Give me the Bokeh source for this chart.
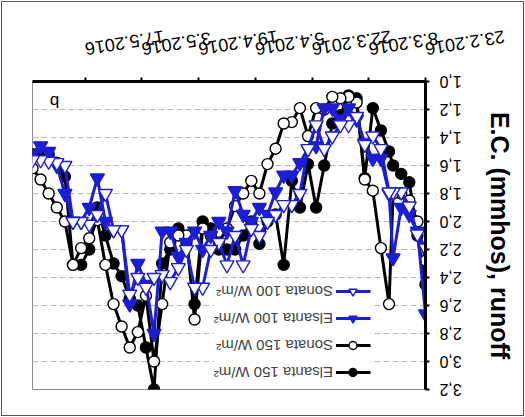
from bokeh.plotting import figure
from bokeh.models import (FixedTicker, Range1d, Legend, LegendItem, Label,
                          InlineStyleSheet)
from bokeh.embed import file_html
from bokeh.resources import INLINE

# sampling days, counted from 23.2.2016
days = [0, 2, 4, 6, 8, 9, 11, 13, 15, 17, 19, 21, 23, 25, 27, 29, 31, 33, 35, 37,
        39, 41, 43, 45, 47, 49, 51, 53, 55, 57, 59, 61, 63, 65, 67, 69, 71, 73, 75, 77,
        79, 81, 83, 85, 87, 89, 91, 93, 95, 97]

elsanta_150 = [2.45, 2.10, 1.72, 1.66, 1.60, 1.50, 1.35, 1.19, 1.69, 1.12,
               1.10, 1.24, 1.30, 1.60, 1.90, 1.59, 1.90, 1.71, 2.31, 1.95,
               2.00, 2.16, 2.00, 2.10, 2.20, 2.20, 2.20, 2.05, 2.00, 2.59,
               2.15, 2.05, 2.20, 2.30, 3.20, 2.90, 2.60, 2.55, 2.39, 2.30,
               2.10, 1.90, 2.20, 2.31, 2.31, 1.68, 1.58, 1.52, 1.50, 1.52]
sonata_150 = [2.28, 2.00, 1.85, 1.80, 1.80, 2.59, 2.19, 1.78, 1.70, 1.15,
              1.11, 1.12, 1.11, 1.20, 1.19, 1.39, 1.19, 1.29, 1.30, 1.48,
              1.59, 1.80, 1.71, 1.80, 1.89, 2.05, 2.15, 2.10, 2.05, 2.70,
              2.10, 2.10, 2.15, 2.59, 3.00, 2.53, 2.79, 2.90, 2.75, 2.59,
              2.31, 1.99, 2.12, 2.19, 2.31, 2.00, 1.90, 1.80, 1.70, 1.62]
elsanta_100 = [2.66, 2.07, 1.95, 1.90, 2.26, 1.80, 1.55, 1.55, 1.44, 1.27,
               1.19, 1.27, 1.19, 1.19, 1.46, 1.48, 1.58, 1.67, 1.67, 1.79,
               1.95, 1.90, 2.00, 1.95, 1.78, 2.07, 2.00, 2.10, 2.20, 2.07,
               2.15, 2.25, 2.07, 2.07, 2.80, 2.45, 2.30, 2.59, 2.06, 2.06,
               2.00, 1.69, 1.90, 2.00, 2.00, 1.80, 1.60, 1.50, 1.46, 1.52]
sonata_100 = [2.19, 2.09, 1.89, 1.79, 1.79, 1.79, 1.48, 1.39, 1.45, 1.25,
              1.31, 1.31, 1.39, 1.48, 1.31, 1.48, 1.80, 1.88, 1.88, 1.95,
              2.00, 2.10, 2.05, 2.31, 2.10, 2.31, 2.15, 2.20, 2.47, 2.47,
              2.20, 2.33, 2.43, 2.38, 2.40, 2.47, 2.40, 2.52, 2.06, 2.06,
              1.80, 1.95, 2.02, 2.00, 2.00, 1.60, 1.58, 1.57, 1.56, 1.56]

series_labels = ["Elsanta 150 W/m\u00b2", "Sonata 150 W/m\u00b2",
                 "Elsanta 100 W/m\u00b2", "Sonata 100 W/m\u00b2"]

x_tick_days = [0, 14, 28, 42, 56, 70, 84]
x_tick_labels = ["23.2.2016", "8.3.2016", "22.3.2016", "5.4.2016",
                 "19.4.2016", "3.5.2016", "17.5.2016"]
y_ticks = [1.0, 1.2, 1.4, 1.6, 1.8, 2.0, 2.2, 2.4, 2.6, 2.8, 3.0, 3.2]
y_tick_labels = ["1,0", "1,2", "1,4", "1,6", "1,8", "2,0", "2,2", "2,4",
                 "2,6", "2,8", "3,0", "3,2"]

FONT = "Liberation Sans"
BLUE = "#1d1dd4"

p = figure(width=509, height=401, output_backend="svg", toolbar_location=None,
           x_range=Range1d(0, 97), y_range=Range1d(1.0, 3.2),
           min_border_left=87, min_border_right=25, min_border_top=19,
           min_border_bottom=74)

# The reference picture is shown turned by 180 degrees
p.stylesheets = [InlineStyleSheet(css=":host { margin: 8px; transform: rotate(180deg); "
                                      "outline: 1px solid #555555; outline-offset: 6px; }")]

p.background_fill_color = "white"
p.border_fill_color = "white"
p.outline_line_color = "#8c8c8c"
p.outline_line_width = 1

p.xgrid.visible = False
p.ygrid.ticker = FixedTicker(ticks=y_ticks)
p.ygrid.grid_line_color = "#b8b8b8"
p.ygrid.grid_line_dash = "6 3"
p.ygrid.grid_line_width = 1

for ax in (p.xaxis[0], p.yaxis[0]):
    ax.axis_line_color = "black"
    ax.axis_line_width = 3
    ax.major_tick_line_color = "black"
    ax.major_tick_line_width = 2
    ax.major_tick_out = 4
    ax.major_tick_in = 0
    ax.minor_tick_line_color = None
    ax.major_label_text_font = FONT
    ax.major_label_text_color = "black"

p.xaxis.ticker = FixedTicker(ticks=x_tick_days)
p.xaxis.major_label_overrides = dict(zip(x_tick_days, x_tick_labels))
p.xaxis.major_label_orientation = 0.16
p.xaxis.major_label_text_font_size = "18px"
p.xaxis.major_label_standoff = 28

p.yaxis.ticker = FixedTicker(ticks=y_ticks)
p.yaxis.major_label_overrides = dict(zip(y_ticks, y_tick_labels))
p.yaxis.major_label_text_font_size = "16px"
p.yaxis.major_label_standoff = 10
p.yaxis.axis_label = "E.C. (mmhos), runoff"
p.yaxis.axis_label_text_font = FONT
p.yaxis.axis_label_text_font_style = "bold"
p.yaxis.axis_label_text_font_size = "25px"
p.yaxis.axis_label_text_color = "black"
p.yaxis.axis_label_standoff = 21

items = []
specs = [
    (elsanta_150, "black", "circle", "black", "black", 11),
    (sonata_150, "black", "circle", "white", "black", 11),
    (elsanta_100, BLUE, "triangle", BLUE, BLUE, 14),
    (sonata_100, BLUE, "triangle", "white", BLUE, 14),
]
for vals, lc, marker, fc, mc, size in specs:
    lr = p.line(days, vals, line_color=lc, line_width=3)
    sr = p.scatter(days, vals, marker=marker, size=size, fill_color=fc,
                   line_color=mc, line_width=1.4)
    items.append((lr, sr))

legend = Legend(items=[LegendItem(label=lab, renderers=[lr, sr])
                       for lab, (lr, sr) in zip(series_labels, items)],
                location=(55, 200), padding=0, margin=0, spacing=7,
                glyph_width=35, glyph_height=20, label_height=20,
                label_standoff=3, label_text_font=FONT,
                label_text_font_size="15px", background_fill_color="white",
                background_fill_alpha=1.0, border_line_color=None)
p.add_layout(legend)

p.add_layout(Label(x=90.4, y=1.14, text="b", text_font=FONT,
                   text_font_size="17px", text_baseline="alphabetic",
                   text_color="black"))

open("out.html", "w").write(file_html(p, INLINE))
